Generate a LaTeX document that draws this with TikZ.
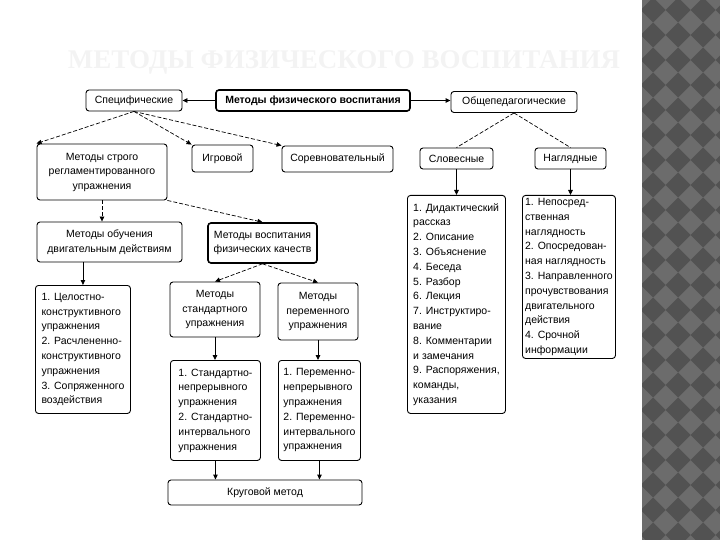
\documentclass[tikz,border=0pt]{standalone}
\usepackage{fontspec}
\setmainfont{Liberation Sans}
\newfontfamily\titlefont{Liberation Serif}
\usetikzlibrary{arrows.meta}

\definecolor{stripelight}{HTML}{6C6C6C}
\definecolor{stripedark}{HTML}{525252}
\definecolor{titlegray}{HTML}{F3F3F3}

\tikzset{
  box/.style={draw, rounded corners=3pt, line width=0.9pt, inner sep=2pt,
    align=center, font=\fontsize{10.5}{14.5}\selectfont},
  boldbox/.style={box, line width=1.6pt, font=\bfseries\fontsize{10.5}{14.5}\selectfont},
  listbox/.style={box, align=left, anchor=north west, font=\fontsize{10.5}{14.8}\selectfont},
  solidarrow/.style={line width=0.9pt, -{Triangle[length=5pt,width=4.5pt]}},
  dasharrow/.style={line width=0.7pt, dash pattern=on 4pt off 2pt, -{Triangle[length=5pt,width=4.5pt]}},
  dashline/.style={line width=0.7pt, dash pattern=on 4pt off 2pt},
}

\begin{document}
\begin{tikzpicture}[x=1pt,y=1pt,yscale=-1,xscale=1]
\useasboundingbox (0,0) rectangle (720,540);

%Stripe on the right
\begin{scope}
\clip (642,0) rectangle (720,540);
\fill [stripelight] (642,0) rectangle (720,540);
\foreach \i in {-1,0,...,3}{
  \foreach \j in {-1,0,...,22}{
    \fill [stripedark] ({653+25*\i},{10+25*\j-12.5}) -- ++(12.5,12.5) -- ++(-12.5,12.5) -- ++(-12.5,-12.5) -- cycle;
  }
}
\end{scope}

% Title
\node [text=titlegray, font=\titlefont\bfseries\fontsize{27}{30}\selectfont] (title) at (344,62) {МЕТОДЫ ФИЗИЧЕСКОГО ВОСПИТАНИЯ};

%Shape: top row
\node [boldbox, minimum width=194, minimum height=21] (main) at (313,100.5) {Методы физического воспитания};
\node [box, minimum width=96, minimum height=21] (spec) at (134,100.5) {Специфические};
\node [box, minimum width=126, minimum height=21] (obsh) at (514,102) {Общепедагогические};

%Shape: second row
\node [box, minimum width=130, minimum height=56] (strog) at (102,172) {Методы строго\\регламентированного\\упражнения};
\node [box, minimum width=61, minimum height=27] (igr) at (222.5,158.5) {Игровой};
\node [box, minimum width=111, minimum height=26] (sorev) at (337.5,159) {Соревновательный};
\node [box, minimum width=73, minimum height=21] (slov) at (456.5,158.5) {Словесные};
\node [box, minimum width=71, minimum height=21] (nagl) at (570.5,158.5) {Наглядные};

%Shape: third row
\node [box, minimum width=145, minimum height=40] (obuch) at (109.5,242) {Методы обучения\\двигательным действиям};
\node [boldbox, font=\fontsize{10.5}{14.5}\selectfont, minimum width=109, minimum height=40] (vosp) at (262.5,243) {Методы воспитания\\физических качеств};

%Shape: fourth row
\node [listbox, minimum width=95, minimum height=128] (cel) at (35,285) {1. Целостно-\\конструктивного\\упражнения\\2. Расчлененно-\\конструктивного\\упражнения\\3. Сопряженного\\воздействия};
\node [box, minimum width=90, minimum height=55] (stand) at (215,309.5) {Методы\\стандартного\\упражнения};
\node [box, minimum width=80, minimum height=57] (perem) at (318,311.5) {Методы\\переменного\\упражнения};

%Shape: fifth row
\node [listbox, minimum width=90, minimum height=100] (standlist) at (170,360) {1. Стандартно-\\непрерывного\\упражнения\\2. Стандартно-\\интервального\\упражнения};
\node [listbox, minimum width=82, minimum height=100] (peremlist) at (278,360) {1. Переменно-\\непрерывного\\упражнения\\2. Переменно-\\интервального\\упражнения};
\node [box, minimum width=194, minimum height=25] (krug) at (265,492.5) {Круговой метод};

%Shape: verbal and visual lists
\node [listbox, minimum width=98, minimum height=218] (slovlist) at (407,195) {1. Дидактический\\рассказ\\2. Описание\\3. Объяснение\\4. Беседа\\5. Разбор\\6. Лекция\\7. Инструктиро-\\вание\\8. Комментарии\\и замечания\\9. Распоряжения,\\команды,\\указания};
\node [listbox, minimum width=93, minimum height=163] (nagllist) at (522,195) {1. Непосред-\\ственная\\наглядность\\2. Опосредован-\\ная наглядность\\3. Направленного\\прочувствования\\двигательного\\действия\\4. Срочной\\информации};

%Straight Lines
\draw [solidarrow] (main.west) -- (spec.east);
\draw [solidarrow] (main.east) -- (main.east -| obsh.west);
\draw [dasharrow] (spec.south) -- (strog.north west);
\draw [dasharrow] (spec.south) -- (igr.north west);
\draw [dasharrow] (spec.south) -- (sorev.north west);
\draw [dashline] (obsh.south) -- (slov.north);
\draw [dashline] (obsh.south) -- (nagl.north);
\draw [solidarrow] (slov.south) -- (slovlist.north -| slov.south);
\draw [solidarrow] (nagl.south) -- (nagllist.north -| nagl.south);
\draw [dasharrow] (strog.south) -- (strog.south |- obuch.north);
\draw [dasharrow] (strog.south east) -- (vosp.north);
\draw [solidarrow] (cel.north |- obuch.south) -- (cel.north);
\draw [dasharrow] (vosp.south) -- (stand.north);
\draw [dasharrow] (vosp.south) -- (perem.north);
\draw [solidarrow] (stand.south) -- (standlist.north -| stand.south);
\draw [solidarrow] (perem.south) -- (peremlist.north -| perem.south);
\draw [solidarrow] (standlist.south) -- (standlist.south |- krug.north);
\draw [solidarrow] (peremlist.south) -- (peremlist.south |- krug.north);

\end{tikzpicture}
\end{document}
